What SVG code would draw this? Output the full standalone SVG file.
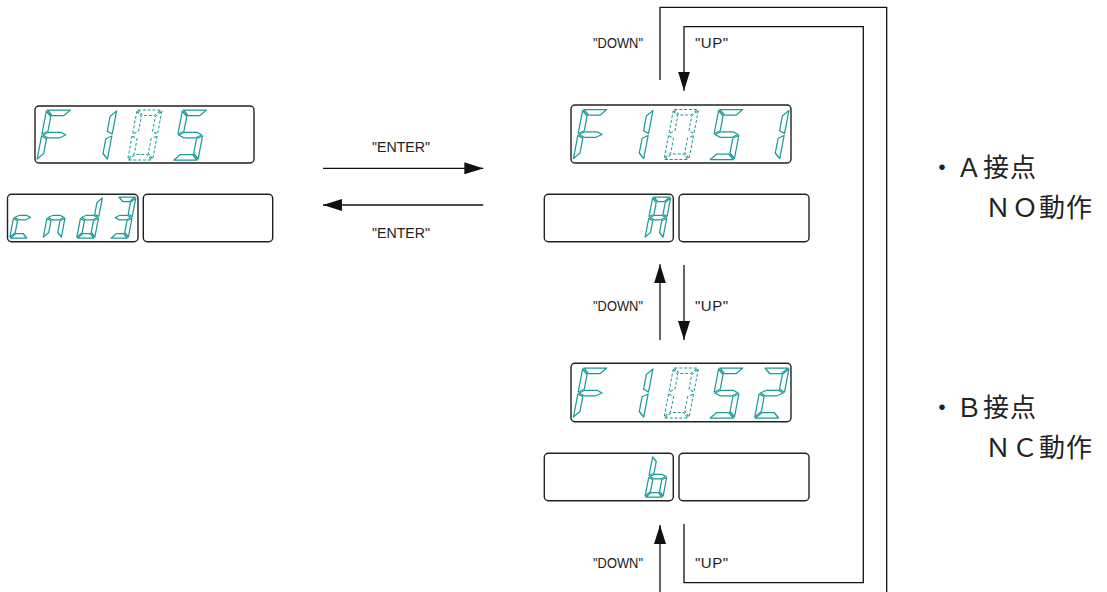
<svg xmlns="http://www.w3.org/2000/svg" width="1107" height="592" viewBox="0 0 1107 592">
  <style>
    .box { fill: #fff; stroke: #222; stroke-width: 1.4; }
    .seg { fill: none; stroke: #1b9a96; stroke-width: 1.25; stroke-linejoin: round; }
    .dim { stroke-dasharray: 3 1.8; stroke-width: 1; }
    .wire { fill: none; stroke: #111; stroke-width: 1.3; }
    .lbl { font-family: "Liberation Sans", Arial, sans-serif; font-size: 15px; fill: #222; }
    .note { font-family: "Noto Sans CJK JP", "Noto Sans", sans-serif; font-size: 26px; fill: #222; letter-spacing: 1px; }
  </style>
  <defs>
    <marker id="arrow" markerUnits="userSpaceOnUse" markerWidth="19" markerHeight="12" refX="19" refY="6" orient="auto">
      <path d="M0,0 L19,6 L0,12 Z" fill="#111"/>
    </marker>
    <!-- large seven-segment cell: 25 x 50 -->
    <path id="La" d="M1,0 L24,0 L18.5,5.5 L6.5,5.5 Z"/>
    <path id="Lb" d="M25,1 L25,24 L19.5,21.25 L19.5,6.5 Z"/>
    <path id="Lc" d="M25,26 L25,49 L19.5,43.5 L19.5,28.75 Z"/>
    <path id="Ld" d="M1,50 L24,50 L18.5,44.5 L6.5,44.5 Z"/>
    <path id="Le" d="M0,26 L0,49 L5.5,43.5 L5.5,28.75 Z"/>
    <path id="Lf" d="M0,1 L0,24 L5.5,21.25 L5.5,6.5 Z"/>
    <path id="Lg" d="M1,25 L6.5,22.25 L18.5,22.25 L24,25 L18.5,27.75 L6.5,27.75 Z"/>
    <!-- small seven-segment cell: 18 x 41 -->
    <path id="Sa" d="M1,0 L17,0 L12.5,4.5 L5.5,4.5 Z"/>
    <path id="Sb" d="M18,1 L18,19.5 L13.5,17.25 L13.5,5.5 Z"/>
    <path id="Sc" d="M18,21.5 L18,40 L13.5,35.5 L13.5,23.75 Z"/>
    <path id="Sd" d="M1,41 L17,41 L12.5,36.5 L5.5,36.5 Z"/>
    <path id="Se" d="M0,21.5 L0,40 L4.5,35.5 L4.5,23.75 Z"/>
    <path id="Sf" d="M0,1 L0,19.5 L4.5,17.25 L4.5,5.5 Z"/>
    <path id="Sg" d="M1,20.5 L5.5,18.25 L12.5,18.25 L17,20.5 L12.5,22.75 L5.5,22.75 Z"/>
    <!-- glyphs -->
    <g id="dF"><use href="#La"/><use href="#Lf"/><use href="#Lg"/><use href="#Le"/></g>
    <g id="d1"><use href="#Lb"/><use href="#Lc"/></g>
    <g id="d0" class="dim"><use href="#La"/><use href="#Lb"/><use href="#Lc"/><use href="#Ld"/><use href="#Le"/><use href="#Lf"/></g>
    <g id="d5"><use href="#La"/><use href="#Lf"/><use href="#Lg"/><use href="#Lc"/><use href="#Ld"/></g>
    <g id="d2"><use href="#La"/><use href="#Lb"/><use href="#Lg"/><use href="#Le"/><use href="#Ld"/></g>
    <g id="sc"><use href="#Sg"/><use href="#Se"/><use href="#Sd"/></g>
    <g id="sn"><use href="#Sg"/><use href="#Se"/><use href="#Sc"/></g>
    <g id="sd"><use href="#Sb"/><use href="#Sc"/><use href="#Sd"/><use href="#Se"/><use href="#Sg"/></g>
    <g id="s3"><use href="#Sa"/><use href="#Sb"/><use href="#Sg"/><use href="#Sc"/><use href="#Sd"/></g>
    <g id="sA"><use href="#Sa"/><use href="#Sb"/><use href="#Sc"/><use href="#Se"/><use href="#Sf"/><use href="#Sg"/></g>
    <g id="sb"><use href="#Sf"/><use href="#Se"/><use href="#Sg"/><use href="#Sc"/><use href="#Sd"/></g>
  </defs>

  <!-- parameter display F105 -->
  <g id="disp-f105">
    <rect class="box" x="35" y="106" width="219" height="57" rx="4"/>
    <g class="seg">
      <use href="#dF" transform="translate(46.5,110) skewX(-10.8)"/>
      <use href="#d1" transform="translate(91.8,110) skewX(-10.8)"/>
      <use href="#d0" transform="translate(137.1,110) skewX(-10.8)"/>
      <use href="#d5" transform="translate(182.5,110) skewX(-10.8)"/>
    </g>
  </g>

  <!-- value display cnd3 -->
  <g id="disp-cnd3">
    <rect class="box" x="7.5" y="194.3" width="130.5" height="47.4" rx="4"/>
    <rect class="box" x="143.3" y="194.3" width="129.4" height="47.4" rx="4"/>
    <g class="seg">
      <use href="#sc" transform="translate(17.5,197) skewX(-10.8)"/>
      <use href="#sn" transform="translate(51,197) skewX(-10.8)"/>
      <use href="#sd" transform="translate(84.5,197) skewX(-10.8)"/>
      <use href="#s3" transform="translate(118,197) skewX(-10.8)"/>
    </g>
  </g>

  <!-- selection F1051 -->
  <g id="disp-f1051">
    <rect class="box" x="571" y="105" width="220" height="58" rx="4"/>
    <g class="seg">
      <use href="#dF" transform="translate(582.8,109.5) skewX(-10.8)"/>
      <use href="#d1" transform="translate(628.1,109.5) skewX(-10.8)"/>
      <use href="#d0" transform="translate(673.5,109.5) skewX(-10.8)"/>
      <use href="#d5" transform="translate(718.8,109.5) skewX(-10.8)"/>
      <use href="#d1" transform="translate(764.1,109.5) skewX(-10.8)"/>
    </g>
  </g>

  <!-- value display A -->
  <g id="disp-a">
    <rect class="box" x="544.3" y="194.3" width="129" height="47.4" rx="4"/>
    <rect class="box" x="679" y="194.3" width="130" height="47.4" rx="4"/>
    <g class="seg">
      <use href="#sA" transform="translate(652.8,197) skewX(-10.8)"/>
    </g>
  </g>

  <!-- selection F1052 -->
  <g id="disp-f1052">
    <rect class="box" x="571" y="363.3" width="220" height="58.4" rx="4"/>
    <g class="seg">
      <use href="#dF" transform="translate(582.8,368) skewX(-10.8)"/>
      <use href="#d1" transform="translate(628.1,368) skewX(-10.8)"/>
      <use href="#d0" transform="translate(673.5,368) skewX(-10.8)"/>
      <use href="#d5" transform="translate(718.8,368) skewX(-10.8)"/>
      <use href="#d2" transform="translate(764.1,368) skewX(-10.8)"/>
    </g>
  </g>

  <!-- value display b -->
  <g id="disp-b">
    <rect class="box" x="544.3" y="453.3" width="129" height="47.4" rx="4"/>
    <rect class="box" x="679" y="453.3" width="130" height="47.4" rx="4"/>
    <g class="seg">
      <use href="#sb" transform="translate(652.8,456) skewX(-10.8)"/>
    </g>
  </g>

  <!-- key transitions -->
  <g id="connectors">
    <path class="wire" d="M323,168.3 H483.3" marker-end="url(#arrow)"/>
    <path class="wire" d="M483.3,205 H323" marker-end="url(#arrow)"/>
    <path class="wire" d="M660,80 V7.3 H886.7 V592"/>
    <path class="wire" d="M684,524 V582.7 H863.3 V26.7 H684 V90.7" marker-end="url(#arrow)"/>
    <path class="wire" d="M660,340 V264.3" marker-end="url(#arrow)"/>
    <path class="wire" d="M684,265 V340" marker-end="url(#arrow)"/>
    <path class="wire" d="M660,592 V525" marker-end="url(#arrow)"/>
  </g>

  <g id="labels">
    <text class="lbl" x="372" y="151.5" textLength="58" lengthAdjust="spacingAndGlyphs">"ENTER"</text>
    <text class="lbl" x="372" y="238" textLength="58" lengthAdjust="spacingAndGlyphs">"ENTER"</text>
    <text class="lbl" x="593" y="48.3" textLength="50" lengthAdjust="spacingAndGlyphs">"DOWN"</text>
    <text class="lbl" x="695" y="48.3" textLength="33" lengthAdjust="spacing">"UP"</text>
    <text class="lbl" x="593" y="311.3" textLength="50" lengthAdjust="spacingAndGlyphs">"DOWN"</text>
    <text class="lbl" x="695" y="311.3" textLength="33" lengthAdjust="spacing">"UP"</text>
    <text class="lbl" x="593" y="568.3" textLength="50" lengthAdjust="spacingAndGlyphs">"DOWN"</text>
    <text class="lbl" x="695" y="568.3" textLength="33" lengthAdjust="spacing">"UP"</text>
  </g>

  <g id="notes">
    <text class="note" x="929" y="177">・Ａ接点</text>
    <text class="note" x="985" y="217">ＮＯ動作</text>
    <text class="note" x="929" y="417">・Ｂ接点</text>
    <text class="note" x="985" y="457">ＮＣ動作</text>
  </g>
</svg>
